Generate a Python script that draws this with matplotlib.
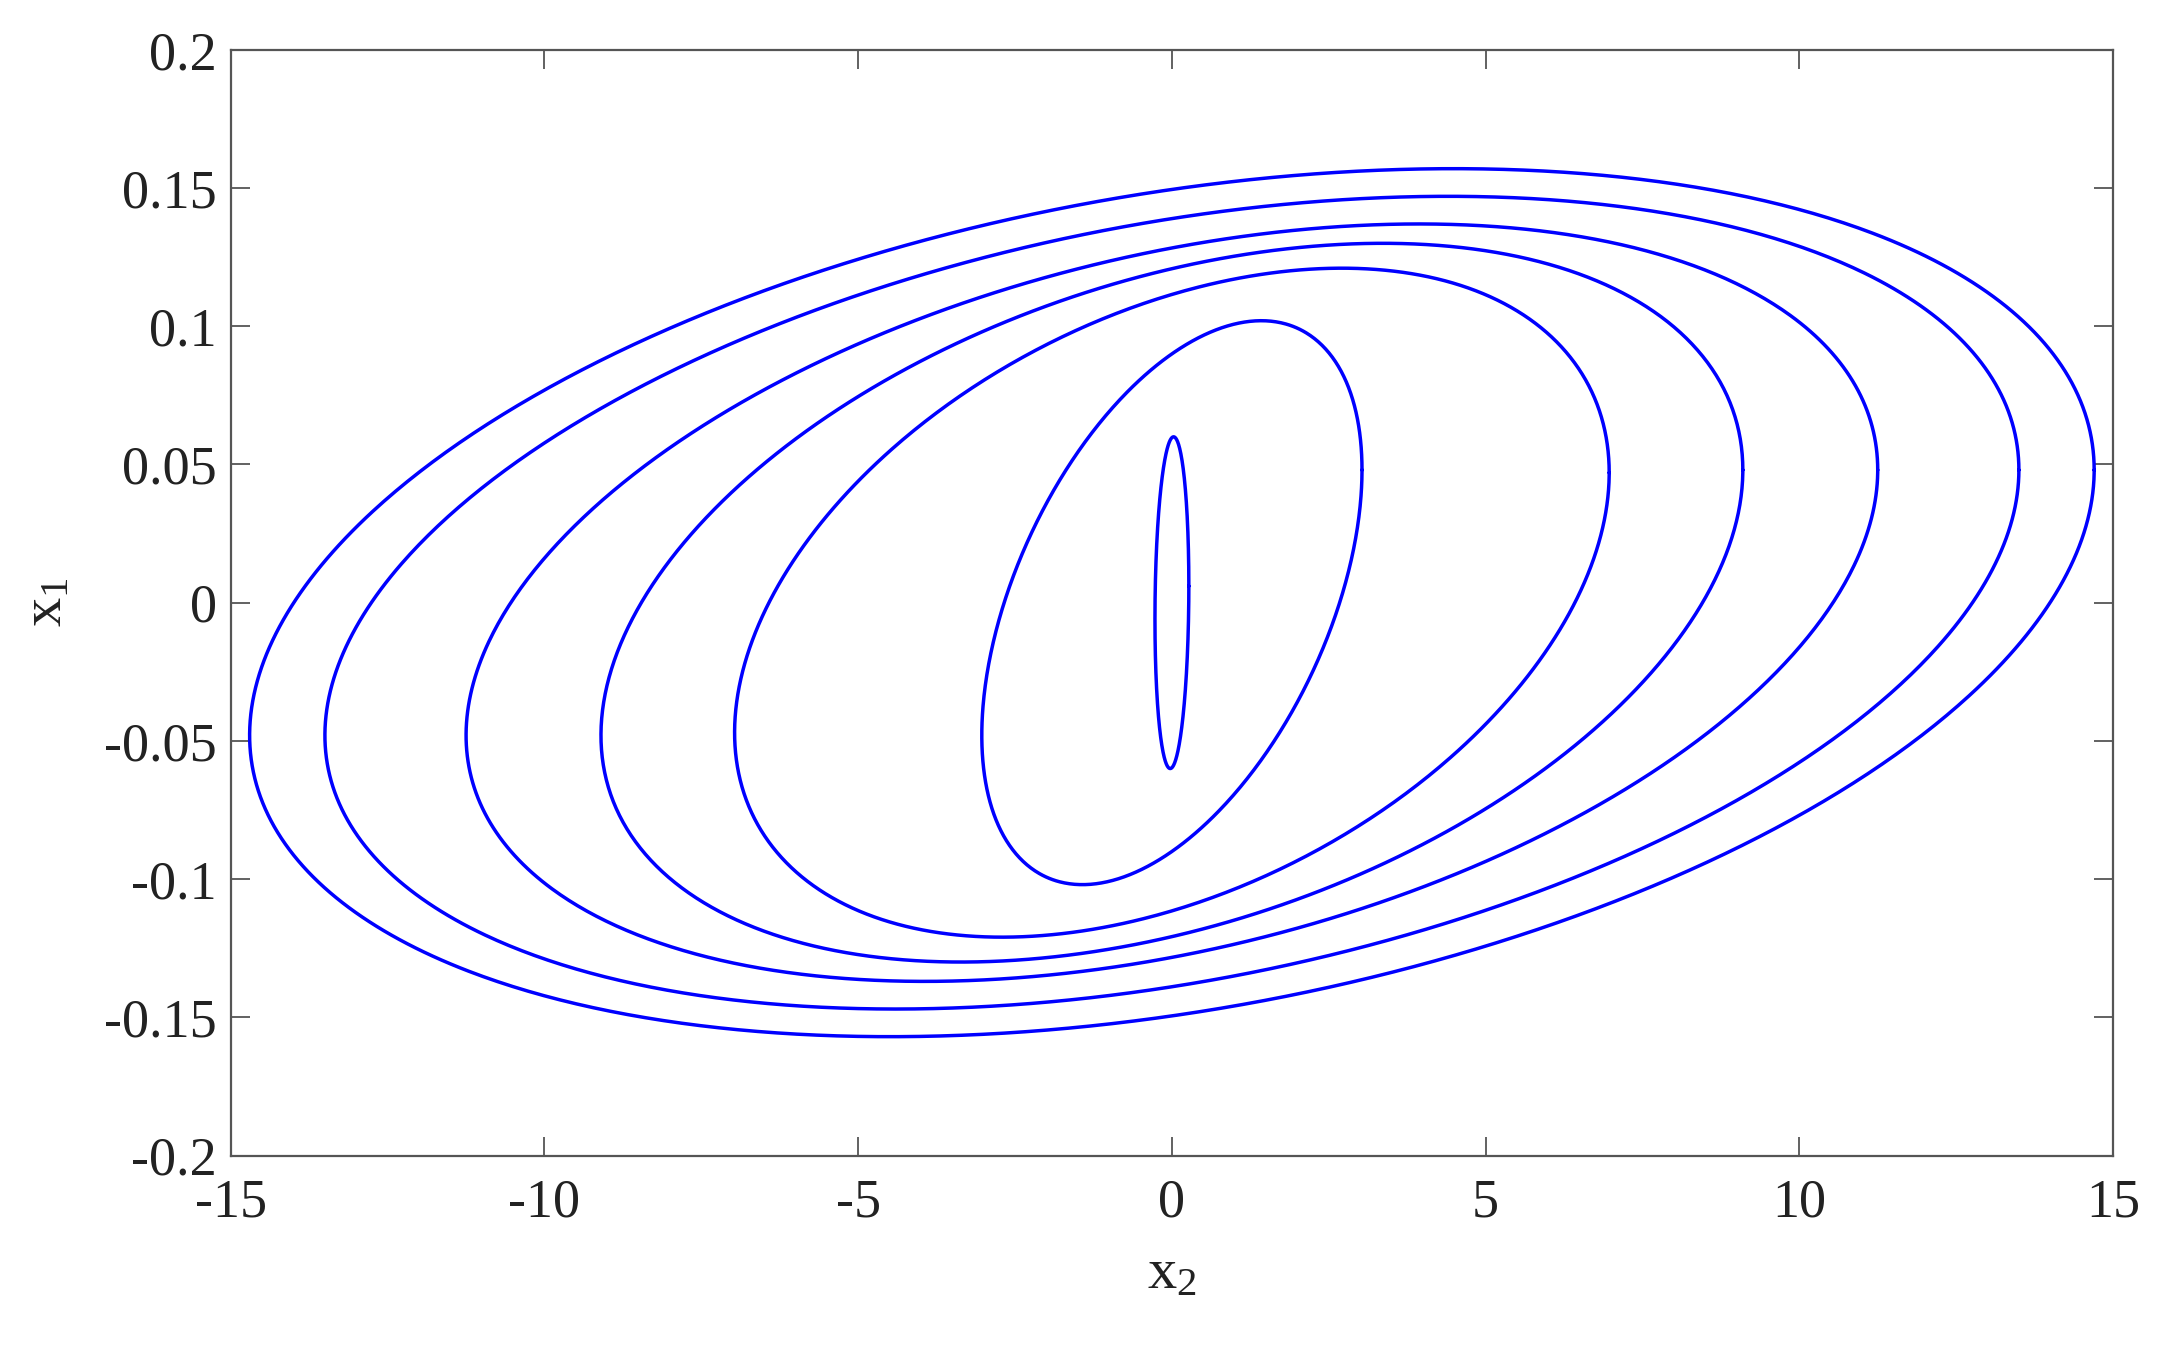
import matplotlib
matplotlib.use('Agg')
import matplotlib.pyplot as plt
import numpy as np

plt.rcParams['font.family'] = ['Liberation Serif', 'DejaVu Serif']
plt.rcParams['mathtext.fontset'] = 'custom'
plt.rcParams['mathtext.rm'] = 'Liberation Serif'
plt.rcParams['mathtext.it'] = 'Liberation Serif'

# each closed orbit described by what can be read off the picture:
# half-width in x2, peak x1, and the x1 value where x2 is largest
x2_max = [14.7, 13.5, 11.25, 9.1, 6.97, 3.03, 0.27]
x1_max = [0.157, 0.147, 0.137, 0.130, 0.121, 0.102, 0.060]
x1_at_x2max = [0.048, 0.048, 0.048, 0.048, 0.047, 0.048, 0.006]

x_ticks = [-15, -10, -5, 0, 5, 10, 15]
y_ticks = [-0.2, -0.15, -0.1, -0.05, 0, 0.05, 0.1, 0.15, 0.2]
y_ticklabels = ['-0.2', '-0.15', '-0.1', '-0.05', '0', '0.05', '0.1', '0.15', '0.2']

fig = plt.figure(figsize=(21.57, 13.46), dpi=100)
ax = fig.add_axes([0.107, 0.1415, 0.8726, 0.8215])

t = np.linspace(0, 2 * np.pi, 800)
for a, b, c in zip(x2_max, x1_max, x1_at_x2max):
    phi = np.arccos(c / b)
    ax.plot(a * np.cos(t), b * np.cos(t - phi), color='#0000ff', lw=2.5,
            solid_capstyle='round', solid_joinstyle='round')

ax.set_xlim(-15, 15)
ax.set_ylim(-0.2, 0.2)
ax.set_xticks(x_ticks)
ax.set_xticklabels([str(v) for v in x_ticks])
ax.set_yticks(y_ticks)
ax.set_yticklabels(y_ticklabels)

ax.tick_params(direction='in', length=14, width=1.3, colors='#555555',
               labelcolor='#222222', labelsize=39, top=True, right=True)
ax.tick_params(axis='x', pad=16)
ax.tick_params(axis='y', pad=10)
for s in ax.spines.values():
    s.set_color('#555555')
    s.set_linewidth(1.6)

ax.set_xlabel(r'x$_\mathregular{2}$', fontsize=42, color='#222222', labelpad=14)
ax.set_ylabel(r'x$_\mathregular{1}$', fontsize=42, color='#222222', labelpad=22)

fig.savefig('out.png', dpi=100, facecolor='white')
